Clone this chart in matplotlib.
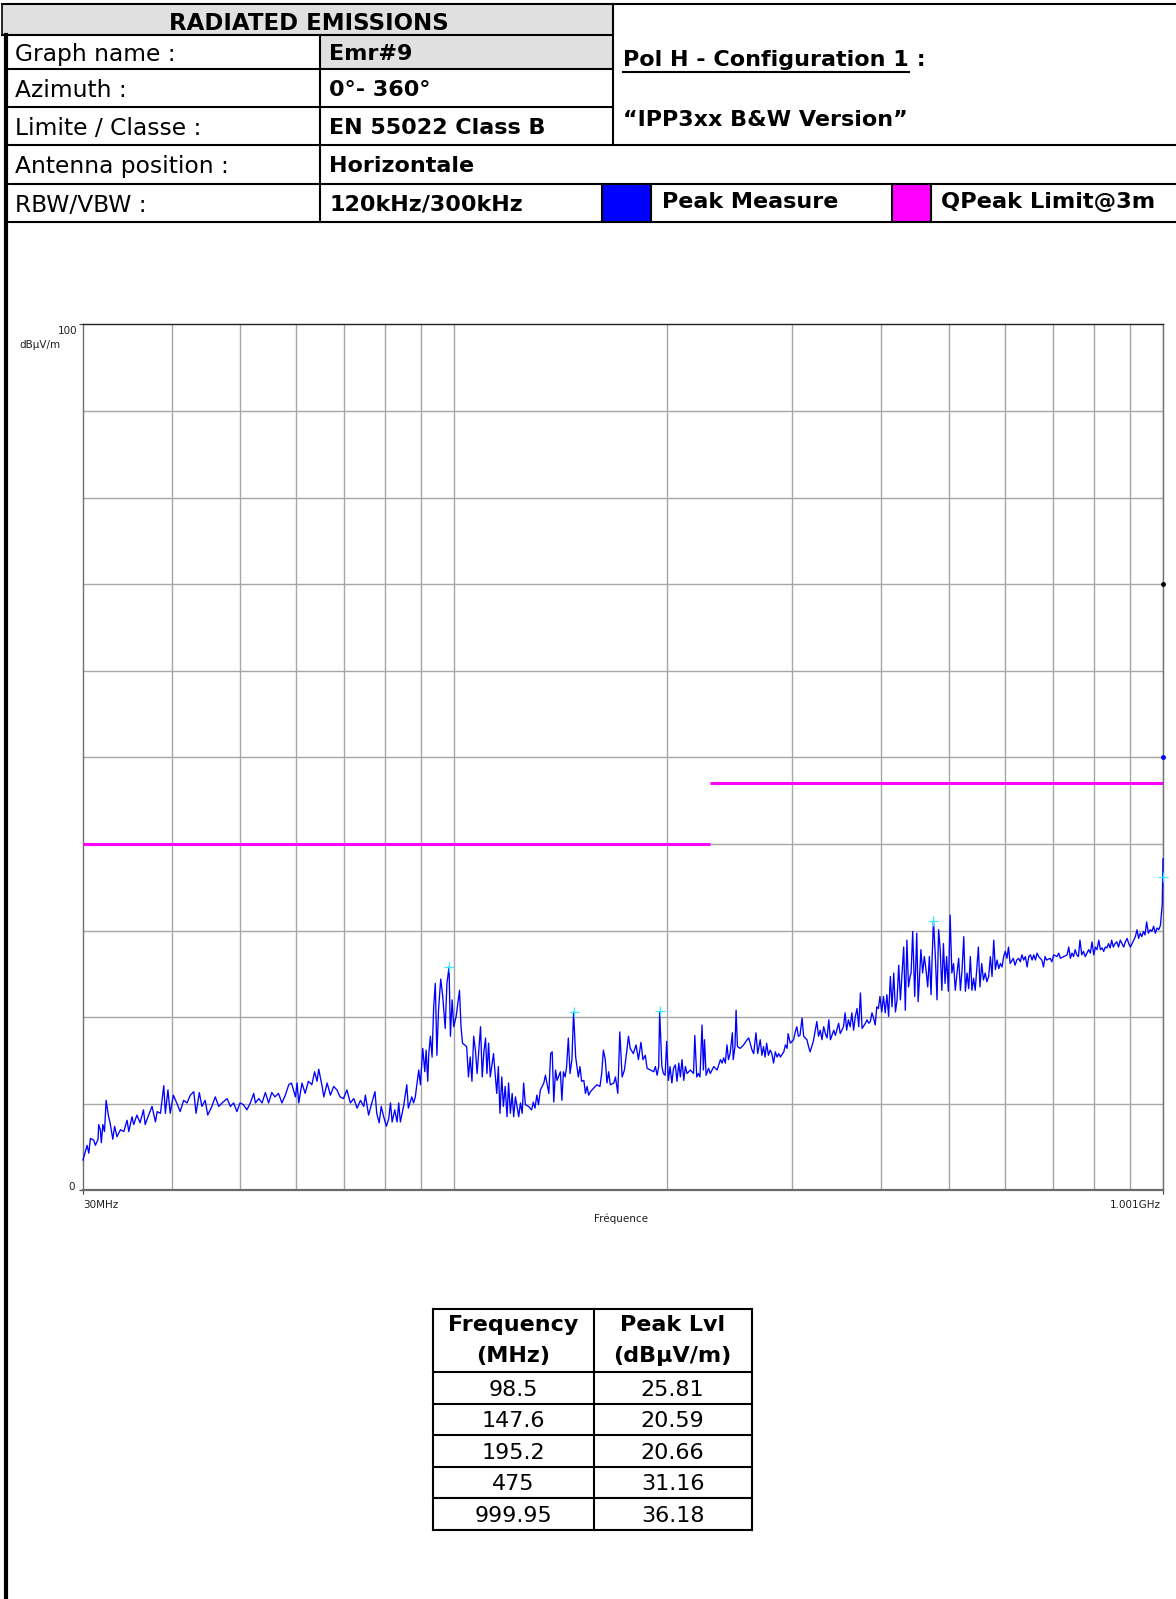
import matplotlib
matplotlib.use('Agg')
import matplotlib.pyplot as plt
from matplotlib.patches import Rectangle
from matplotlib.lines import Line2D
from matplotlib.ticker import LogLocator, MultipleLocator, NullFormatter
import numpy as np

plt.rcParams['font.family'] = ['DejaVu Sans']

# ---- measured peak trace (MHz / dBuV/m) ----
freq_lo = [30.0, 30.4, 30.57, 30.73, 31.07, 31.23, 31.5, 31.57, 31.74, 31.84,
           32.0, 32.17, 32.34, 32.57, 32.76, 33.05, 33.24, 33.5, 33.88, 34.25,
           34.62, 34.81, 35.18, 35.37, 35.74, 36.11, 36.51, 36.71, 37.13, 37.54,
           37.96, 38.17, 38.58, 39.0, 39.2, 39.53, 39.82, 40.23, 40.67, 41.13,
           41.6, 42.06, 42.52, 42.99, 43.31, 43.77, 44.14, 44.61, 44.98, 45.59,
           46.1, 46.62, 47.13, 47.9, 48.42, 48.93, 49.45, 49.96, 50.51, 51.08,
           51.66, 52.23, 52.52, 53.09, 53.67, 54.24, 54.81, 55.39, 55.96, 56.6,
           57.24, 57.88, 58.52, 59.04, 59.81, 60.13, 60.45, 61.09, 61.73, 62.37,
           63.08, 63.65, 64.15, 64.51, 65.22, 65.58, 66.29, 67.0, 67.72, 68.43,
           69.14, 69.9, 70.69, 71.49, 72.28, 73.07, 73.87, 74.66, 75.06, 75.85,
           76.65, 77.44, 77.88, 78.5, 79.03, 79.66, 80.36, 80.98, 81.43, 81.87,
           82.58, 83.2, 83.64, 84.09, 84.97, 85.86, 86.3, 87.29, 87.78, 88.27,
           89.26, 89.75, 90.44, 91.04, 91.43, 91.92, 92.22, 92.71, 93.21, 93.7,
           94.19, 94.69, 95.18, 95.87, 96.5, 97.27, 97.82, 98.5, 98.93, 99.48,
           100.0]
level_lo = [3.5, 5.2, 4.3, 6.0, 5.8, 5.2, 5.9, 7.6, 7.0, 5.5,
            7.6, 6.8, 10.4, 8.7, 7.8, 5.9, 7.4, 6.2, 7.0, 6.8,
            8.1, 6.8, 8.5, 7.6, 8.7, 7.8, 9.3, 7.6, 8.7, 9.7,
            7.9, 9.1, 8.9, 12.1, 8.9, 11.6, 8.9, 11.0, 10.1, 9.1,
            10.4, 10.1, 11.0, 11.4, 8.9, 11.3, 9.7, 10.4, 8.7, 9.7,
            10.8, 9.7, 10.1, 10.6, 9.7, 10.1, 9.1, 10.1, 9.9, 9.3,
            10.1, 11.2, 10.1, 10.6, 10.1, 11.3, 10.1, 11.3, 10.8, 11.2,
            10.1, 11.0, 12.2, 12.4, 10.8, 12.4, 10.1, 12.4, 11.2, 12.6,
            12.2, 13.7, 12.6, 14.0, 12.0, 10.8, 12.4, 11.0, 12.0, 11.6,
            10.8, 10.6, 11.6, 10.1, 10.6, 9.5, 10.4, 9.7, 11.0, 8.7,
            10.1, 11.4, 8.9, 7.8, 9.7, 8.5, 7.4, 8.3, 10.1, 7.9,
            9.3, 7.9, 10.1, 7.9, 9.7, 12.2, 9.5, 10.8, 10.1, 10.8,
            13.9, 12.2, 16.4, 13.7, 16.2, 12.6, 15.8, 17.8, 15.4, 21.2,
            23.9, 15.6, 20.8, 24.4, 22.4, 18.7, 23.9, 25.81, 17.8, 22.0,
            18.9]

freq_mid = [100.8, 101.9, 102.4, 102.9, 104.3, 104.9, 105.5, 106.1, 106.7, 107.3,
            107.9, 108.5, 109.1, 109.7, 110.3, 110.9, 111.4, 112.0, 112.6, 113.8,
            115.0, 115.6, 116.2, 116.9, 117.5, 118.2, 118.9, 119.5, 120.2, 120.9,
            121.5, 122.2, 123.5, 124.2, 124.9, 125.5, 126.2, 127.5, 128.8, 129.5,
            130.2, 131.0, 131.7, 132.5, 134.0, 134.7, 136.2, 137.0, 137.7, 138.4,
            139.2, 139.9, 141.4, 142.1, 142.8, 143.6, 144.3, 145.1, 145.9, 146.8,
            147.6, 148.6, 149.9, 150.7, 151.5, 152.6, 153.4, 154.2, 155.0, 155.9,
            157.5, 159.2, 160.8, 161.7, 162.6, 163.6, 164.5, 165.4, 166.3, 168.2,
            169.1, 170.4, 171.5, 172.8, 174.1, 175.5, 176.4, 177.4, 179.2, 180.8,
            182.2, 183.7, 184.9, 186.3, 187.4, 189.4, 191.5, 192.5, 193.6, 194.6,
            195.2, 196.6, 197.6, 198.7, 199.7, 200.8, 201.9, 203.1, 204.2, 205.4,
            206.5, 207.7, 208.8, 209.9, 211.1, 212.2, 213.4, 215.7, 217.9, 218.8,
            220.2, 221.4, 222.5, 224.0, 225.0, 225.8, 227.0, 228.8, 230.1, 232.7,
            235.2, 237.8, 239.1, 240.3, 241.6, 242.9, 244.1, 245.4, 247.2, 247.9,
            249.3, 250.2, 251.3, 253.6, 256.4, 259.3, 260.7, 263.5, 264.9, 266.9,
            268.4, 270.6, 272.1, 273.5, 274.9, 276.3, 277.9, 279.5, 281.0, 282.6,
            284.2, 285.8, 287.4, 288.9, 292.1, 293.7, 295.3, 296.2, 298.4, 301.6,
            303.2, 304.7, 306.3, 307.9]
level_mid = [20.1, 23.1, 18.9, 17.0, 16.6, 13.1, 15.4, 12.6, 17.8, 16.2,
             13.5, 16.2, 18.9, 13.1, 16.0, 17.6, 13.5, 17.0, 13.1, 15.8,
             11.2, 14.3, 8.9, 13.1, 9.7, 12.0, 8.5, 12.4, 8.9, 11.2,
             8.5, 10.8, 8.5, 10.1, 8.9, 12.4, 9.9, 9.7, 9.3, 10.2,
             9.5, 11.0, 9.9, 11.6, 12.4, 13.3, 11.2, 15.8, 16.0, 10.2,
             13.9, 12.7, 13.7, 10.4, 13.7, 13.1, 14.3, 17.6, 13.5, 15.1,
             20.59, 15.4, 13.1, 14.3, 12.6, 12.7, 11.2, 12.0, 11.0, 11.4,
             11.8, 12.2, 12.0, 13.5, 16.2, 15.1, 12.4, 13.7, 12.2, 12.4,
             13.1, 11.2, 18.3, 13.1, 13.9, 16.2, 17.8, 16.4, 15.8, 16.8,
             15.1, 17.1, 15.1, 15.6, 14.1, 13.9, 13.7, 14.3, 13.3, 14.3,
             20.66, 14.3, 13.5, 13.3, 17.2, 12.7, 14.3, 12.4, 14.1, 14.5,
             12.6, 14.7, 13.1, 15.1, 12.7, 14.3, 13.5, 13.9, 13.5, 17.9,
             13.1, 13.5, 13.1, 19.1, 13.9, 17.4, 13.3, 14.1, 13.5, 14.3,
             13.9, 15.1, 14.7, 15.3, 14.7, 16.8, 15.1, 15.8, 18.2, 15.1,
             16.6, 20.8, 16.6, 16.4, 16.8, 17.4, 17.6, 16.2, 15.8, 18.2,
             15.8, 17.4, 15.6, 16.6, 15.4, 17.0, 15.6, 16.2, 15.8, 14.7,
             16.0, 15.4, 15.8, 15.4, 16.0, 16.8, 16.4, 18.1, 17.0, 17.4,
             18.3, 18.9, 17.8, 17.9]

freq_hi = [310.0, 311.6, 314.9, 316.6, 318.2, 319.9, 321.5, 325.2, 327.0, 328.9,
           330.7, 332.5, 334.4, 336.2, 338.1, 339.9, 343.6, 345.4, 349.1, 350.9,
           354.6, 356.5, 358.3, 360.3, 362.4, 364.4, 366.5, 368.5, 370.6, 372.6,
           374.7, 376.7, 380.8, 382.8, 384.9, 386.9, 389.0, 391.0, 393.1, 395.1,
           397.2, 399.2, 401.5, 403.8, 406.1, 408.3, 410.6, 412.9, 415.2, 417.5,
           419.8, 422.0, 424.3, 426.6, 428.9, 431.2, 433.5, 435.7, 438.0, 440.3,
           441.7, 444.0, 446.9, 449.9, 451.9, 453.5, 456.0, 458.6, 461.1, 463.6,
           466.2, 468.7, 471.3, 472.8, 475.0, 477.9, 480.5, 483.0, 485.5, 488.1,
           490.6, 493.2, 495.7, 498.5, 501.4, 504.2, 507.0, 509.9, 512.7, 515.5,
           518.4, 521.2, 524.1, 526.9, 529.7, 532.6, 535.4, 538.2, 541.1, 543.9,
           546.7, 549.6, 552.4, 555.6, 558.7, 561.9, 565.0, 568.2, 571.4, 574.5,
           577.7, 580.8, 584.0, 587.2, 590.3, 593.5, 596.6, 599.8, 603.0, 606.1,
           609.3, 615.6, 619.1, 622.6, 626.2, 629.7, 633.2, 636.7, 640.2, 643.8,
           647.3, 650.8, 654.3, 657.9, 661.4, 664.9, 668.4, 671.9, 675.4, 679.0,
           682.5, 686.0, 693.8, 697.8, 701.7, 709.5, 713.4, 717.4, 725.2, 733.0,
           737.0, 740.9, 744.8, 748.7, 752.6, 756.6, 760.5, 764.4, 768.8, 773.1,
           777.5, 781.9, 786.3, 790.6, 795.0, 799.4, 803.8, 808.1, 812.5, 816.9,
           821.3, 825.6, 830.0, 834.3, 838.7, 843.1, 847.4, 851.8, 856.7, 861.5,
           866.4, 871.3, 876.2, 881.0, 885.9, 890.8, 895.6, 900.5, 905.4, 910.2,
           915.1, 920.0, 924.8, 929.7, 934.6, 939.5, 944.3, 949.2, 954.6, 960.1,
           965.5, 970.9, 976.3, 981.8, 987.2, 992.6, 994.2, 996.0, 998.5, 999.95,
           1001.0]
level_hi = [19.9, 17.8, 17.4, 16.6, 16.0, 16.6, 17.2, 19.5, 17.8, 18.5,
            17.4, 18.9, 18.1, 17.6, 19.7, 17.4, 18.5, 17.9, 19.3, 18.1,
            18.9, 20.5, 18.5, 19.7, 18.9, 20.5, 18.5, 20.1, 21.0, 18.9,
            22.8, 18.7, 19.3, 19.7, 19.3, 19.5, 20.5, 19.9, 19.1, 21.2,
            21.0, 22.4, 20.6, 22.4, 20.5, 22.6, 20.1, 24.7, 21.2, 25.1,
            20.6, 22.0, 26.0, 22.0, 25.1, 28.1, 20.8, 28.9, 23.5, 24.7,
            25.1, 29.9, 22.4, 29.7, 21.8, 23.9, 27.8, 25.1, 27.0, 25.5,
            23.5, 27.0, 22.6, 26.6, 31.16, 27.0, 22.0, 30.1, 27.8, 23.1,
            28.5, 23.9, 27.0, 23.0, 31.8, 25.1, 26.2, 23.1, 25.1, 26.8,
            23.1, 25.5, 29.3, 23.0, 25.1, 23.3, 27.0, 23.1, 24.5, 23.1,
            25.5, 28.1, 23.5, 26.2, 24.3, 25.1, 24.1, 24.7, 27.0, 24.7,
            28.9, 25.5, 26.6, 25.6, 26.2, 25.8, 27.0, 27.6, 26.8, 28.1,
            26.2, 26.8, 26.0, 26.6, 26.8, 26.4, 27.2, 26.6, 27.0, 25.8,
            27.0, 27.2, 26.6, 27.2, 26.6, 27.4, 27.0, 26.8, 26.6, 25.8,
            27.0, 26.6, 26.8, 26.4, 27.2, 27.0, 27.4, 26.8, 27.0, 27.2,
            28.1, 26.8, 27.4, 27.0, 27.8, 27.2, 27.0, 28.9, 27.2, 27.6,
            27.0, 27.4, 27.8, 27.4, 28.7, 27.2, 28.1, 27.8, 28.9, 27.8,
            28.0, 27.6, 28.1, 28.0, 28.5, 28.0, 28.9, 28.1, 28.5, 28.7,
            28.1, 28.9, 28.5, 28.1, 28.7, 29.1, 28.5, 28.1, 28.5, 28.9,
            29.3, 30.1, 29.1, 29.7, 29.3, 29.9, 29.5, 31.0, 29.7, 30.1,
            29.9, 30.5, 29.7, 30.3, 30.1, 30.6, 31.2, 32.0, 33.0, 36.18,
            38.3]

# peak list (marker table)
peak_freq = [98.5, 147.6, 195.2, 475, 999.95]
peak_level = [25.81, 20.59, 20.66, 31.16, 36.18]
peak_freq_txt = ['98.5', '147.6', '195.2', '475', '999.95']
peak_level_txt = ['25.81', '20.59', '20.66', '31.16', '36.18']

# EN 55022 class B quasi-peak limit @3m
limit_start = [30, 230]
limit_stop = [230, 1001]
limit_level = [40, 47]

# header table content
row_labels = ['Graph name :', 'Azimuth :', 'Limite / Classe :',
              'Antenna position :', 'RBW/VBW :']
row_values = ['Emr#9', '0°- 360°', 'EN 55022 Class B',
              'Horizontale', '120kHz/300kHz']

W, H = 1176, 1599
fig = plt.figure(figsize=(W / 100, H / 100), dpi=100)


def fx(x):
    return x / W


def fy(y):
    return 1 - y / H


def hline(y, x0, x1, lw=1.5, color='black'):
    fig.add_artist(Line2D([fx(x0), fx(x1)], [fy(y), fy(y)], lw=lw,
                          color=color, transform=fig.transFigure,
                          solid_capstyle='projecting'))


def vline(x, y0, y1, lw=1.5, color='black'):
    fig.add_artist(Line2D([fx(x), fx(x)], [fy(y0), fy(y1)], lw=lw,
                          color=color, transform=fig.transFigure,
                          solid_capstyle='projecting'))


def box(x0, y0, x1, y1, color):
    fig.add_artist(Rectangle((fx(x0), fy(y1)), fx(x1) - fx(x0),
                             fy(y0) - fy(y1), facecolor=color,
                             edgecolor='none', transform=fig.transFigure))


# ---- header block ----
rows_y = [4, 34.5, 69, 107, 145, 184, 221.5]
box(2, 4, 613, 34.5, '#e0e0e0')
box(320, 34.5, 613, 69, '#e0e0e0')
box(602, 184, 651, 221.5, '#0000ff')
box(892, 184, 931, 221.5, '#ff00ff')

hline(4, 2, 1176)
hline(34.5, 2, 613)
hline(69, 6, 613)
hline(107, 6, 613)
hline(145, 6, 1176)
hline(184, 6, 1176)
hline(221.5, 6, 1176)
vline(2, 4, 34.5, lw=1.2)
vline(320, 34.5, 221.5)
vline(613, 4, 145)
for xv in [602, 651, 892, 931]:
    vline(xv, 184, 221.5)
# page border on the left
vline(6, 34.5, 1599, lw=3)

fig.text(fx(309), fy(30), 'RADIATED EMISSIONS', ha='center',
         va='baseline', weight='bold', size=16.5)
for i, (lab, val) in enumerate(zip(row_labels, row_values)):
    base = (rows_y[i + 1] + rows_y[i + 2]) / 2 + 9
    fig.text(fx(15), fy(base), lab, ha='left', va='baseline', size=16.8)
    fig.text(fx(329), fy(base - 1), val, ha='left', va='baseline',
             weight='bold', size=16)

pol = fig.text(fx(623), fy(66), 'Pol H - Configuration 1', ha='left',
               va='baseline', weight='bold', size=16)
renderer = fig.canvas.get_renderer()
bb = pol.get_window_extent(renderer)
fig.add_artist(Line2D([bb.x0 / W, bb.x1 / W], [fy(71.5), fy(71.5)], lw=1.5,
                      color='black', transform=fig.transFigure))
fig.text(bb.x1 / W, fy(66), ' :', ha='left', va='baseline',
         weight='bold', size=16)
fig.text(fx(623), fy(126.5), '\u201cIPP3xx B&W Version\u201d', ha='left',
         va='baseline', weight='bold', size=16)
fig.text(fx(662), fy(207.5), 'Peak Measure', ha='left', va='baseline',
         weight='bold', size=16)
fig.text(fx(941), fy(207.5), 'QPeak Limit@3m', ha='left', va='baseline',
         weight='bold', size=16.2)

# ---- spectrum plot ----
ax_l, ax_r, ax_t, ax_b = 83, 1163, 324.4, 1190.4
ax = fig.add_axes([fx(ax_l), fy(ax_b), (ax_r - ax_l) / W, (ax_b - ax_t) / H])
ax.set_xscale('log')
ax.set_xlim(30, 1001)
ax.set_ylim(0, 100)

ax.xaxis.set_minor_locator(LogLocator(base=10, subs=np.arange(1, 10), numticks=50))
ax.xaxis.set_minor_formatter(NullFormatter())
ax.yaxis.set_minor_locator(MultipleLocator(10))
ax.set_xticks([30, 1001])
ax.set_yticks([0, 100])
ax.set_xticklabels([])
ax.set_yticklabels([])
ax.tick_params(which='minor', length=0)
ax.tick_params(which='major', length=3, width=0.8, color='#404040')
ax.grid(True, which='minor', color='#a6a6a6', lw=1.0)
ax.grid(False, which='major')
ax.set_axisbelow(True)
for side in ['left', 'right']:
    ax.spines[side].set_color('#707070')
    ax.spines[side].set_linewidth(1.0)
ax.spines['top'].set_color('#202020')
ax.spines['top'].set_linewidth(1.0)
ax.spines['bottom'].set_color('#6a6a6a')
ax.spines['bottom'].set_linewidth(1.6)

ax.hlines(limit_level, limit_start, limit_stop, color='#ff00ff', lw=2.2,
          zorder=3)
freqs = freq_lo + freq_mid + freq_hi
levels = level_lo + level_mid + level_hi
ax.plot(freqs, levels, color='#0000ff', lw=0.95, zorder=4, clip_on=False)
ax.plot(peak_freq, peak_level, '+', color='#40e8ff', ms=7, mew=0.9,
        zorder=5, clip_on=False)
ax.plot([1001], [70], 'o', color='black', ms=2.5, zorder=6, clip_on=False)
ax.plot([1001], [50], 'o', color='#0000ff', ms=2.5, zorder=6, clip_on=False)

small = dict(size=7.5, color='#202020')
fig.text(fx(77), fy(330.5), '100', ha='right', va='center', **small)
fig.text(fx(61), fy(344.8), 'dB\u00b5V/m', ha='right', va='center', **small)
fig.text(fx(75), fy(1187), '0', ha='right', va='center', **small)
fig.text(fx(83), fy(1204.6), '30MHz', ha='left', va='center', **small)
fig.text(fx(1161), fy(1204.6), '1.001GHz', ha='right', va='center', **small)
fig.text(fx(621), fy(1219), 'Fr\u00e9quence', ha='center', va='center', **small)

# ---- peak table ----
tx0, tmid, tx1 = 432.5, 593.6, 751.7
trows = [1308.7, 1372, 1403.5, 1435.1, 1466.7, 1498.3, 1530]
for yv in trows:
    hline(yv, tx0, tx1)
for xv in [tx0, tmid, tx1]:
    vline(xv, trows[0], trows[-1])
c1 = (tx0 + tmid) / 2
c2 = (tmid + tx1) / 2
fig.text(fx(c1), fy(1331), 'Frequency', ha='center', va='baseline',
         weight='bold', size=16)
fig.text(fx(c1), fy(1362), '(MHz)', ha='center', va='baseline',
         weight='bold', size=16)
fig.text(fx(c2), fy(1331), 'Peak Lvl', ha='center', va='baseline',
         weight='bold', size=16)
fig.text(fx(c2), fy(1362), '(dB\u00b5V/m)', ha='center', va='baseline',
         weight='bold', size=16)
for i, (ft, lt) in enumerate(zip(peak_freq_txt, peak_level_txt)):
    base = (trows[i + 1] + trows[i + 2]) / 2 + 8
    fig.text(fx(c1), fy(base), ft, ha='center', va='baseline', size=16)
    fig.text(fx(c2), fy(base), lt, ha='center', va='baseline', size=16)

fig.savefig('out.png', dpi=100)
